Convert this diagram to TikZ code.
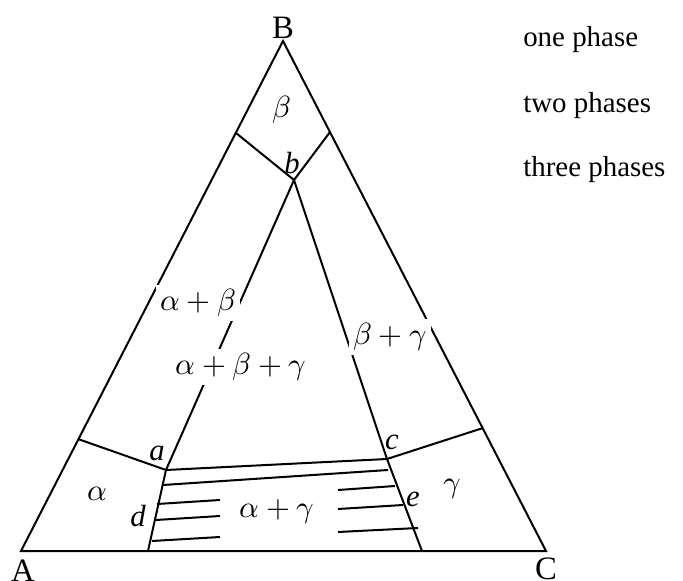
\documentclass[tikz,border=0pt]{standalone}
\usepackage{fontspec}
\usepackage{unicode-math}
\setmainfont{Liberation Serif}
\usepackage{tikz}
\usetikzlibrary{positioning}

\begin{document}
\begin{tikzpicture}[x=0.75pt, y=-0.75pt,
    bd/.style={line width=1.5pt},
    tie/.style={line width=1.5pt},
    region/.style={fill=white, inner sep=3pt, font=\fontsize{23}{27}\selectfont},
    pt/.style={inner sep=0pt, font=\fontsize{23}{27}\selectfont\itshape},
    vtx/.style={inner sep=0pt, font=\fontsize{24.5}{29}\selectfont},
    key/.style={anchor=base west, inner sep=0pt, font=\fontsize{21.7}{26}\selectfont}
]
\useasboundingbox (0,0) rectangle (683,581);

% Triangle corners
\coordinate (A) at (21,551);
\coordinate (B) at (283,41);
\coordinate (C) at (546,551);

% Invariant points and boundary ends
\coordinate (a) at (166,470);
\coordinate (b) at (294,180);
\coordinate (c) at (387,459);
\coordinate (ab) at (236,133);
\coordinate (bc) at (330,132);
\coordinate (aA) at (78,439);
\coordinate (cC) at (483,428);
\coordinate (d0) at (148,551);
\coordinate (e0) at (422,551);

\draw[bd] (A) -- (B) -- (C) -- cycle;
\draw[bd] (ab) -- (b) -- (bc);
\draw[bd] (a) -- (b) -- (c);
\draw[bd] (aA) -- (a) -- (d0);
\draw[bd] (cC) -- (c) -- (e0);

% Tie lines
\draw[tie] (a) -- (c);
\draw[tie] (163,485) -- (388,470);
\foreach \ly/\lx/\ry/\rx in {504/157/490/395, 520/156/509/403, 541/152/532/418} {
  \draw[tie] (\lx,\ly) -- (220,\ly-4);
  \draw[tie] (338,\ry) -- (\rx,\ry-4);
}

% Phase fields
\node[region] (sb) at (282,110) {$\beta$};
\node[region] (sab) at (198,303) {$\alpha+\beta$};
\node[region] (sabg) at (241,367) {$\alpha+\beta+\gamma$};
\node[region] (sbg) at (390,337) {$\beta+\gamma$};
\node[region] (sa) at (97,494) {$\alpha$};
\node[region] (sg) at (452,489) {$\gamma$};
\node[region] (sag) at (277,512) {$\alpha+\gamma$};

% Point labels
\node[pt] (la) at (157,453) {a};
\node[pt] (lb) at (292,163) {b};
\node[pt] (lc) at (392,442) {c};
\node[pt] (ld) at (138,516) {d};
\node[pt] (le) at (413,499) {e};

\node[vtx] (lA) at (23,571) {A};
\node[vtx] (lB) at (283,28) {B};
\node[vtx] (lC) at (546,569) {C};

% Legend
\node[key] (k1) at (523,47) {one phase};
\node[key] (k2) at (523,113) {two phases};
\node[key] (k3) at (523,177) {three phases};
\end{tikzpicture}
\end{document}
